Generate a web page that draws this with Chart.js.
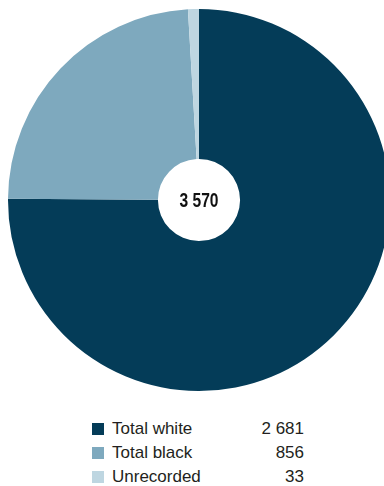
<!DOCTYPE html>
<html>
<head>
<meta charset="utf-8">
<script src="https://cdn.jsdelivr.net/npm/chart.js@4"></script>
<style>
  html, body { margin: 0; padding: 0; background: #fff; width: 384px; height: 486px; overflow: hidden; }
  #wrap { position: relative; width: 384px; height: 486px; }
  #pie { position: absolute; left: 0; top: 0; }
  #legend { position: absolute; left: 92px; top: 417px; width: 212px; font-family: "Liberation Sans", Arial, sans-serif; font-size: 17px; color: #231f20; }
  .row { display: flex; align-items: center; height: 24px; }
  .sw { width: 12px; height: 12px; margin-right: 8px; }
  .lab { flex: 1; }
  .val { text-align: right; }
</style>
</head>
<body>
<div id="wrap">
  <canvas id="pie" width="398" height="400"></canvas>
  <div id="legend"></div>
</div>
<script>
const categories = ["Total white", "Total black", "Unrecorded"];
const counts = [2681, 856, 33];
const colours = ["#043c58", "#7ea9be", "#bed6e1"];

// thousands separated by a space, e.g. 2 681
function fmt(n) {
  return String(n).replace(/\B(?=(\d{3})+(?!\d))/g, " ");
}

const total = counts.reduce((a, b) => a + b, 0);

// total written in the hole of the doughnut, squeezed to look condensed
const centreText = {
  id: "centreText",
  afterDraw(chart) {
    const meta = chart.getDatasetMeta(0).data[0];
    const ctx = chart.ctx;
    ctx.save();
    ctx.translate(meta.x, meta.y + 1);
    ctx.scale(0.78, 1);
    ctx.font = "bold 20px 'Liberation Sans', Arial, sans-serif";
    ctx.fillStyle = "#111";
    ctx.textAlign = "center";
    ctx.textBaseline = "middle";
    ctx.fillText(fmt(total), 0, 0);
    ctx.restore();
  }
};

new Chart(document.getElementById("pie"), {
  type: "doughnut",
  data: {
    labels: categories,
    datasets: [{
      data: counts,
      backgroundColor: colours,
      borderWidth: 0,
    }],
  },
  options: {
    responsive: false,
    devicePixelRatio: 1,
    animation: false,
    cutout: "21.5%",
    layout: { padding: { left: 8, right: 8, top: 9, bottom: 9 } },
    plugins: {
      legend: { display: false },
      tooltip: { enabled: false },
    }
  },
  plugins: [centreText]
});

// legend rows
const legend = document.getElementById("legend");
categories.forEach((c, i) => {
  const row = document.createElement("div");
  row.className = "row";
  row.innerHTML = '<div class="sw" style="background:' + colours[i] + '"></div>' +
    '<div class="lab">' + c + '</div><div class="val">' + fmt(counts[i]) + '</div>';
  legend.appendChild(row);
});
</script>
</body>
</html>
